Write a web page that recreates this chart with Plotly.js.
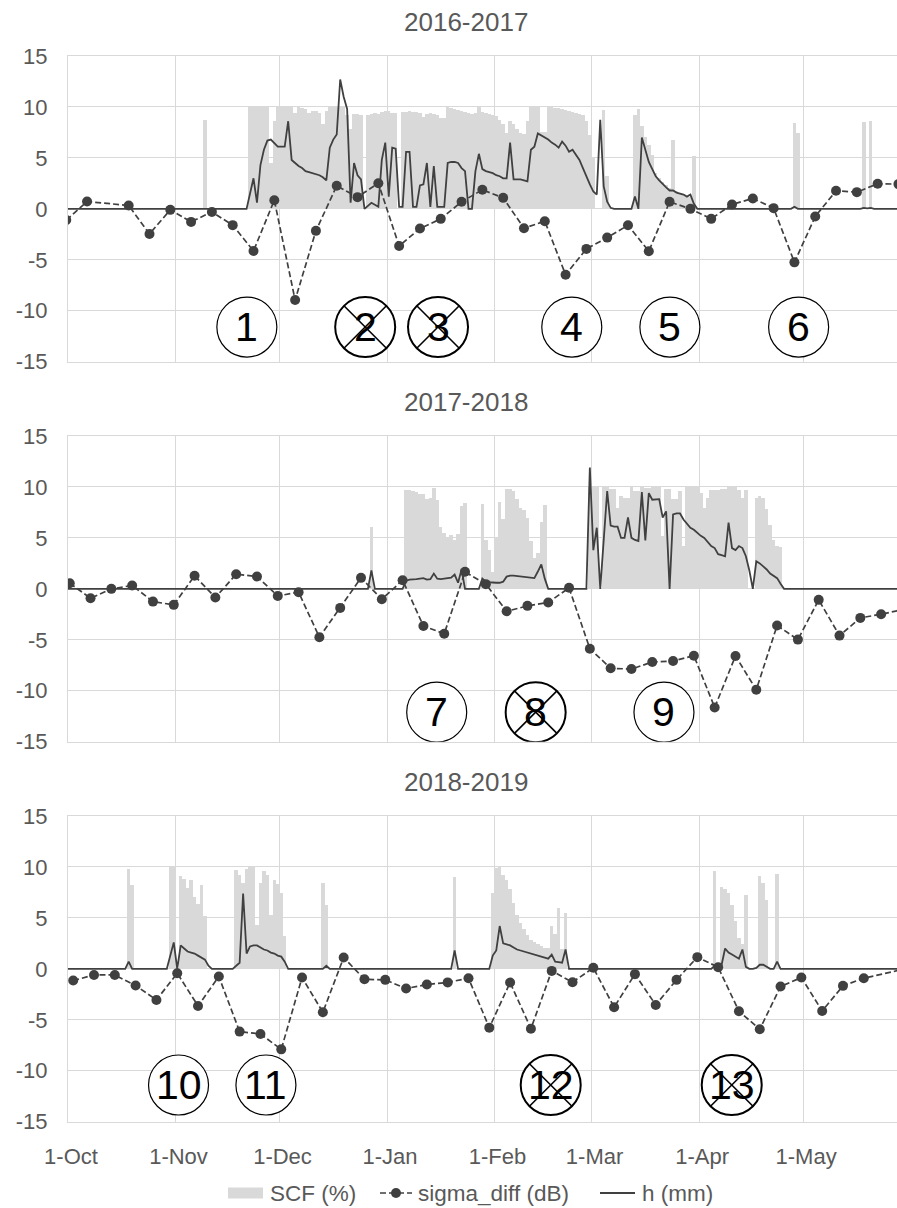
<!DOCTYPE html>
<html>
<head>
<meta charset="utf-8">
<script src="https://cdn.plot.ly/plotly-3.0.1.min.js"></script>
<style>
html,body{margin:0;padding:0;background:#fff;}
#chart{width:897px;height:1208px;}
</style>
</head>
<body>
<div id="chart"></div>
<script>
// ---------------- DATA ----------------
const seasonTitles = ['2016-2017', '2017-2018', '2018-2019'];
const seasonStarts = ['2016-10-01', '2017-10-01', '2018-10-01'];
const legendNames = ['SCF (%)', 'sigma_diff (dB)', 'h (mm)'];
const yTickVals = [-15, -10, -5, 0, 5, 10, 15];
const yTickText = ['-15', '-10', '-5', '0', '5', '10', '15'];

// SCF (%/10), daily bars: [first day, daily values]
const scf1 = [
  ['2016-11-09', [8.7]],
  ['2016-11-22', [10,10,10,10,10,10,4.5,8.6,10,10,
                  10,10,10,9.4,10,9.9,9.8,9.4,9.6,9.6,
                  9.4,8.3,9.6,10,10,10,10,10,9.2,7.8,
                  9.3,9.3,9.2,0,9.2,9.3,9.4,9.3,9.5,9.6,
                  9.6,9.4,9.4,0,9.5,9.5,9.6,9.5,9.5,9.4,
                  9.0,9.3,9.4,9.3,9.2,8.9,8.9,10,9.9,9.8,
                  9.7,9.6,9.5,9.4,9.3,9.4,10,9.5,9.4,9.3,
                  9.2,9.1,8.7,8.3,7.4,8.6,8.3,7.8,7.4,7.3,
                  8.6,10,10,10,7.5,7.5,10,10,9.9,9.9,
                  9.8,9.7,9.6,9.5,9.4,9.3,9.2,8.6,7.2,5.0,
                  0,0,9.7,3.2]],
  ['2017-03-13', [9.2,9.8,8.1,7.1,6.3,5.3,3.5,3.0,2.6,2.3,2.0,6.8,1.8,1.6,1.5,1.3,1.2,5.2]],
  ['2017-04-28', [8.4,7.4]],
  ['2017-05-18', [8.5,0,8.6]]
];
const scf2 = [
  ['2017-12-27', [6.1]],
  ['2018-01-06', [9.7,9.7,9.6,9.5,9.3,9.3,8.8,8.9,9.9,8.7,6.1,5.5,5.1,5.3,4.8,5.4,8.1,8.4]],
  ['2018-01-28', [8.3,4.8,3.8,1.7,5.1,8.5,6.9,9.8,9.8,9.6,8.8,7.9,7.7,7.0,4.7,3.0,3.5,6.6,8.2]],
  ['2018-02-28', [10,10,10,0,10,10,9.8,9.8,7.9,9.1,
                  8.9,8.9,10,9.6,9.6,10,9.9,9.9,10,10,
                  10,5.2,9.8,9.8,8.8,8.8,9.6,4.2,10,10,
                  10,10,9.4,7.9,8.9,9.7,9.7,9.7,9.8,9.8,
                  10,10,10,9.7,8.9,9.7,0,0,8.9,9.1,
                  8.9,7.8,6.3,4.8,4.2,4.1]]
];
const scf3 = [
  ['2018-10-18', [9.8,8.2]],
  ['2018-10-30', [10,10,0,9.1,8.8,7.9,8.75,7.1,6.4,8.2,5.2]],
  ['2018-11-18', [9.7,9.2,8.4,9.8,10,10,4.3,8.4,9.6,9.2,5.3,8.75,8.3,7.4,3.2]],
  ['2018-12-13', [8.4,6.3]],
  ['2019-01-20', [9.0]],
  ['2019-01-31', [7.4,9.9,10,9.2,8.75,7.8,6.5,5.3,4.5,3.9,3.3,2.85,2.6,2.4,2.2,2.0,2.0,4.2,3.4,6.0,1.9,5.5]],
  ['2019-04-05', [9.6,0,8.0,7.8,7.4,6.3,4.65,3.0,2.4,7.2,0,0,0,9.1,8.4,6.8,0,0,9.3]]
];

// h (mm), daily line: [first day, daily values]; 0 between the listed spans
const h1 = [
  ['2016-09-30', [0,0]],
  ['2016-11-21', [0,1.5,3.0,0.6,4.3,5.8,6.7,6.8,6.5,6.1,
                  6.1,6.1,8.6,4.8,4.5,4.2,4.0,3.7,3.6,3.5,
                  3.4,3.3,3.1,2.8,6.0,6.8,7.3,12.7,11.0,9.8,
                  0.6,4.5,3.3,2.9,0,0.3,0.6,0.4,0.2,4.8,
                  6.5,1.2,6.0,5.9,0.2,0.2,5.6,5.6,0.2,0.2,
                  2.3,2.4,4.5,0.2,4.2,0.2,0.2,0.2,4.5,4.6,
                  4.6,4.5,4.0,3.7,0,0,3.7,5.4,3.9,3.7,
                  3.6,3.5,3.3,3.2,3.0,3.0,6.5,2.9,2.9,2.9,
                  2.8,2.7,5.8,6.1,7.4,7.2,7.0,6.8,6.5,6.3,
                  6.0,6.6,6.2,5.6,5.8,5.3,4.8,4.0,3.1,2.4,
                  1.7,1.4,8.75,2.2,0.7,0.1,0,0,0,0,
                  0,0,1.2,0,7.0,5.8,4.6,3.9,3.2,2.8,
                  2.4,2.1,1.8,1.8,1.6,1.5,1.4,1.2,1.4,0.5,
                  0]],
  ['2017-04-27', [0,0.2,0]],
  ['2017-05-17', [0,0.1,0.05,0.1,0]],
  ['2017-05-31', [0]]
];
const h2 = [
  ['2017-09-30', [0,0]],
  ['2017-12-26', [0,1.8,0]],
  ['2018-01-05', [0,0.8,0.9,0.9,0.95,1.0,1.05,0.9,0.95,1.5,
                  1.0,0.95,1.0,1.05,1.1,1.4,0.6,1.9,0,0,
                  0,0,0,1.0,0.7,0.65,0.6,0.6,0.6,0.7,
                  1.2,1.3,1.3,1.25,1.2,1.2,1.1,1.05,1.05,1.7,
                  2.4,1.0,0]],
  ['2018-02-27', [0,11.9,3.8,6.0,0,4.8,9.6,6.2,6.1,6.1,
                  5.0,5.0,7.0,5.0,4.8,4.7,9.5,4.75,9.4,8.75,
                  8.8,8.8,7.0,7.6,0,7.3,7.4,7.4,6.8,6.4,
                  6.0,5.8,5.5,5.2,5.0,4.6,4.2,4.0,3.4,3.3,
                  3.2,6.5,4.0,3.8,4.2,4.0,3.2,1.8,0,2.7,
                  2.5,2.2,1.9,1.5,1.3,1.05,0.5,0]],
  ['2018-05-31', [0]]
];
const h3 = [
  ['2018-09-30', [0,0]],
  ['2018-10-17', [0,0.7,0]],
  ['2018-10-29', [0,1.2,2.6,0,2.3,2.0,1.7,1.6,1.5,1.3,1.1,0.9,0.3,0]],
  ['2018-11-17', [0,0.3,0.6,7.4,1.5,2.2,2.3,2.3,2.1,1.9,1.8,1.6,1.5,1.3,1.2,0.7,0]],
  ['2018-12-13', [0,0.3,0]],
  ['2019-01-19', [0,1.8,0]],
  ['2019-01-30', [0,1.3,1.8,4.2,2.5,2.4,2.3,2.1,1.9,1.8,1.7,1.6,1.5,1.4,1.3,1.2,1.05,1.0,1.4,0.7,0.65,0.6,1.9,0]],
  ['2019-04-04', [0,0.3,0.5,0.4,2.0,1.6,1.4,1.2,1.0,1.9,0.2,0,0,0.1,0.4,0.4,0.2,0,0,0.7,0]],
  ['2019-05-31', [0]]
];

// sigma_diff (dB): one acquisition every 6 days from the first date (null = no acquisition)
const sigmaStarts = ['2016-09-30', '2017-10-01', '2018-10-02'];
const sigma1 = [-1.1,0.72,null,0.33,-2.46,-0.1,-1.28,-0.3,-1.6,-4.13,0.85,-8.95,-2.16,2.26,1.15,2.52,-3.64,-1.93,-0.98,0.69,1.87,1.08,-1.9,-1.21,-6.46,-3.93,-2.82,-1.61,-4.16,0.69,0.0,-0.98,0.43,1.02,0.07,-5.25,-0.75,1.77,1.64,2.46,2.43];
const sigma2 = [0.55,-0.92,0.0,0.33,-1.25,-1.57,1.28,-0.85,1.44,1.21,-0.69,-0.33,-4.75,-1.87,1.08,-1.02,0.85,-3.64,-4.41,1.67,0.46,-2.2,-1.67,-1.34,0.1,-5.87,-7.8,-7.87,-7.18,-7.08,-6.56,-11.64,-6.59,-9.9,-3.6,-4.98,-1.08,-4.59,-2.85,-2.49,-2.05];
const sigma3 = [-1.15,-0.6,-0.6,-1.64,-3.05,-0.43,-3.64,-0.75,-6.16,-6.39,-7.9,-0.85,-4.26,1.11,-1.02,-1.08,-1.93,-1.54,-1.33,-0.92,-5.77,-1.34,-5.87,-0.2,-1.31,0.1,-3.77,-0.52,-3.54,-1.08,1.15,0.16,-4.16,-5.93,-1.74,-0.85,-4.13,-1.67,-0.92,null,0.0];

// circled event labels
const eventLabels = ['1','2','3','4','5','6','7','8','9','10','11','12','13'];
const eventPanels = [1,1,1,1,1,1,2,2,2,3,3,3,3];
const eventDates = ['2016-11-21 14:00','2016-12-25 17:00','2017-01-15 17:00','2017-02-23 07:00','2017-03-23 14:00','2017-04-29 17:00',
                    '2018-01-15 08:00','2018-02-12 21:00','2018-03-21 21:00',
                    '2018-11-01 21:00','2018-11-27 02:00','2019-02-17 05:00','2019-04-10 10:00'];
const eventCrossed = [false,true,true,false,false,false,false,true,false,false,false,true,true];

// ---------------- BUILD ----------------
const DAY = 86400000;
function addDays(s, n) {
  const d = new Date(s + 'T00:00:00Z');
  d.setUTCDate(d.getUTCDate() + n);
  return d.toISOString().slice(0, 10);
}
function expand(segs) {
  const x = [], y = [];
  segs.forEach(([start, vals]) => vals.forEach((v, i) => { x.push(addDays(start, i)); y.push(v); }));
  return {x, y};
}
function endOfRange(start) {
  const t = new Date(start + 'T00:00:00Z').getTime() + 239.08 * DAY;
  return new Date(t).toISOString().replace('T', ' ').slice(0, 19);
}

const FONT = 'Liberation Sans, Arial, Helvetica, sans-serif';
const GRID = '#d9d9d9';
const TXT = '#595959';
const LINE = '#404040';
const BAR = '#d9d9d9';

const scfAll = [scf1, scf2, scf3];
const hAll = [h1, h2, h3];
const sigmaAll = [sigma1, sigma2, sigma3];

const traces = [];
for (let p = 0; p < 3; p++) {
  const sfx = p === 0 ? '' : String(p + 1);
  const b = expand(scfAll[p]);
  traces.push({
    type: 'bar', x: b.x, y: b.y, xaxis: 'x' + sfx, yaxis: 'y' + sfx,
    xperiod: DAY, xperiodalignment: 'middle', width: DAY,
    marker: {color: BAR, line: {width: 0}},
    name: legendNames[0], showlegend: false, hoverinfo: 'skip'
  });
  const h = expand(hAll[p]);
  traces.push({
    type: 'scatter', mode: 'lines', x: h.x, y: h.y, xaxis: 'x' + sfx, yaxis: 'y' + sfx,
    xperiod: DAY, xperiodalignment: 'middle',
    line: {color: LINE, width: 1.8},
    name: legendNames[2], showlegend: false, hoverinfo: 'skip'
  });
  const sv = sigmaAll[p];
  traces.push({
    type: 'scatter', mode: 'lines+markers',
    x: sv.map((_, k) => addDays(sigmaStarts[p], 6 * k)), y: sv,
    xaxis: 'x' + sfx, yaxis: 'y' + sfx, connectgaps: true,
    xperiod: DAY, xperiodalignment: 'middle',
    line: {color: LINE, width: 1.7, dash: '6px,3px'},
    marker: {color: LINE, size: 10, symbol: 'circle'},
    name: legendNames[1], showlegend: false, hoverinfo: 'skip'
  });
}

const H = 1208, W = 897, L = 68;
const PW = W - L;
const panelTop = [56, 436, 816];
const panelBottom = [361.7, 741.7, 1121.7];
const titleY = [21.5, 401.5, 781.5];
const px = v => (v - L) / PW;      // pixel x -> paper x
const py = v => (H - v) / H;       // pixel y -> paper y

const layout = {
  width: W, height: H,
  margin: {l: L, r: 0, t: 0, b: 0, pad: 0},
  paper_bgcolor: '#fff', plot_bgcolor: '#fff',
  font: {family: FONT, color: TXT, size: 22},
  bargap: 0,
  barmode: 'overlay',
  showlegend: false,
  annotations: [],
  shapes: []
};

for (let p = 0; p < 3; p++) {
  const sfx = p === 0 ? '' : String(p + 1);
  layout['xaxis' + sfx] = {
    type: 'date', range: [seasonStarts[p], endOfRange(seasonStarts[p])],
    anchor: 'y' + sfx, domain: [0, 1],
    tick0: seasonStarts[p], dtick: 'M1', tickformat: '%-d-%b',
    showgrid: true, gridcolor: GRID, gridwidth: 1, zeroline: false,
    showline: true, mirror: true, linecolor: GRID, linewidth: 1,
    ticks: '', showticklabels: p === 2, ticklabelstandoff: 15, ticklabelshift: 3,
    tickfont: {size: 22, color: TXT, family: FONT}, fixedrange: true
  };
  layout['yaxis' + sfx] = {
    range: [-15, 15], anchor: 'x' + sfx,
    domain: [(H - panelBottom[p]) / H, (H - panelTop[p]) / H],
    tickvals: yTickVals, ticktext: yTickText,
    showgrid: true, gridcolor: GRID, gridwidth: 1, zeroline: false,
    showline: true, linecolor: GRID, linewidth: 1,
    ticks: '', ticklabelstandoff: 15,
    tickfont: {size: 22, color: TXT, family: FONT}, fixedrange: true
  };
  layout.annotations.push({
    xref: 'paper', yref: 'paper', x: px(466), y: py(titleY[p]),
    xanchor: 'center', yanchor: 'middle', showarrow: false,
    text: seasonTitles[p], font: {size: 26, color: TXT, family: FONT}
  });
}

// circled event markers
const eventY = [-11.6, -12.1, -11.4];
eventLabels.forEach((lab, i) => {
  const p = eventPanels[i] - 1;
  const sfx = p === 0 ? '' : String(p + 1);
  const xr = 'x' + sfx, yr = 'y' + sfx;
  layout.shapes.push({
    type: 'circle', xref: xr, yref: yr, xsizemode: 'pixel', ysizemode: 'pixel',
    xanchor: eventDates[i], yanchor: eventY[p], x0: -30, x1: 30, y0: -30, y1: 30,
    line: {color: '#000', width: eventCrossed[i] ? 2 : 1.2}, fillcolor: '#fff', layer: 'above'
  });
  if (eventCrossed[i]) {
    [[-21, 21, -21, 21], [-21, 21, 21, -21]].forEach(([a, b, c, d]) => {
      layout.shapes.push({
        type: 'line', xref: xr, yref: yr, xsizemode: 'pixel', ysizemode: 'pixel',
        xanchor: eventDates[i], yanchor: eventY[p], x0: a, x1: b, y0: c, y1: d,
        line: {color: '#000', width: 1.6}, layer: 'above'
      });
    });
  }
  layout.annotations.push({
    xref: xr, yref: yr, x: eventDates[i], y: eventY[p], showarrow: false,
    xanchor: 'center', yanchor: 'middle', text: lab,
    font: {size: 41, color: '#000', family: FONT}
  });
});

// legend (drawn below the bottom panel, like the original chart's legend row)
const legY = 1193;
layout.shapes.push(
  {type: 'rect', xref: 'paper', yref: 'paper', x0: px(228), x1: px(263), y0: py(legY + 5.5), y1: py(legY - 5.5),
   fillcolor: BAR, line: {width: 0}},
  {type: 'line', xref: 'paper', yref: 'paper', x0: px(380), x1: px(412), y0: py(legY), y1: py(legY),
   line: {color: LINE, width: 1.7, dash: '6px,3px'}},
  {type: 'circle', xref: 'paper', yref: 'paper', x0: px(391), x1: px(401), y0: py(legY + 5), y1: py(legY - 5),
   fillcolor: LINE, line: {width: 0}},
  {type: 'line', xref: 'paper', yref: 'paper', x0: px(600), x1: px(635), y0: py(legY), y1: py(legY),
   line: {color: LINE, width: 1.8}}
);
[[268, legendNames[0]], [416, legendNames[1]], [640, legendNames[2]]].forEach(([x, t]) => {
  layout.annotations.push({
    xref: 'paper', yref: 'paper', x: px(x), y: py(legY), xanchor: 'left', yanchor: 'middle',
    showarrow: false, text: t, font: {size: 22.5, color: TXT, family: FONT}
  });
});

Plotly.newPlot('chart', traces, layout, {staticPlot: true, displayModeBar: false});
</script>
</body>
</html>
